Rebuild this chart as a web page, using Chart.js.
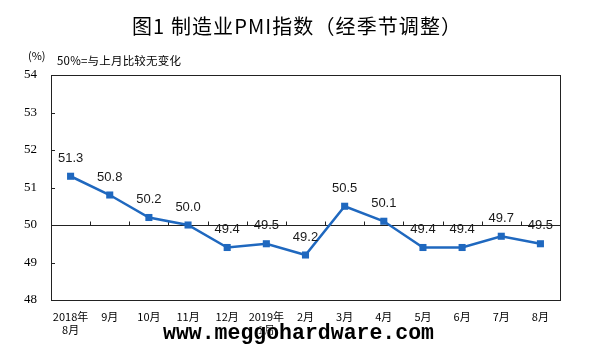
<!DOCTYPE html>
<html>
<head>
<meta charset="utf-8">
<script src="https://cdn.jsdelivr.net/npm/chart.js@4/dist/chart.umd.min.js"></script>
<style>
  html, body { margin: 0; padding: 0; background: #fff; }
  #wrap { position: relative; width: 597px; height: 356px; overflow: hidden; }
  #c { position: absolute; left: 0; top: 0; }
  .t { position: absolute; white-space: nowrap; color: #000; }
  #title { left: 132px; top: 11px; font: 400 20px "Noto Sans CJK SC", sans-serif; letter-spacing: 1.1px; }
  #unit { left: 28px; top: 47px; font: 11px "Noto Sans CJK SC", sans-serif; }
  #note { left: 57px; top: 52px; font: 11.5px "Noto Sans CJK SC", sans-serif; letter-spacing: 0.2px; }
  #wm { left: 163px; top: 321px; font: bold 21.5px "Liberation Mono", monospace; color: #000; text-shadow: 0 0 2px #fff, 0 0 2px #fff; }
</style>
</head>
<body>
<div id="wrap">
  <canvas id="c" width="597" height="356"></canvas>
  <div class="t" id="title">图1 制造业PMI指数（经季节调整）</div>
  <div class="t" id="unit">(%)</div>
  <div class="t" id="note">50%=与上月比较无变化</div>
  <div class="t" id="wm">www.meggohardware.com</div>
</div>
<script>
const categories = [['2018年','8月'],'9月','10月','11月','12月',['2019年','1月'],'2月','3月','4月','5月','6月','7月','8月'];
const pmiValues = [51.3, 50.8, 50.2, 50.0, 49.4, 49.5, 49.2, 50.5, 50.1, 49.4, 49.4, 49.7, 49.5];
const yMin = 48, yMax = 54, yStep = 1;
const baseline = 50;

const framePlugin = {
  id: 'frame',
  beforeDatasetsDraw(chart) {
    const {ctx, chartArea: a, scales: {x, y}} = chart;
    ctx.save();
    ctx.strokeStyle = '#222';
    ctx.lineWidth = 1;
    const yb = Math.round(y.getPixelForValue(baseline)) + 0.5;
    ctx.beginPath();
    ctx.moveTo(a.left, yb); ctx.lineTo(a.right, yb);
    const n = categories.length;
    for (let i = 0; i < n - 1; i++) {
      const px = Math.round((x.getPixelForValue(i) + x.getPixelForValue(i + 1)) / 2) + 0.5;
      ctx.moveTo(px, yb); ctx.lineTo(px, yb - 4);
    }
    for (let v = yMin + yStep; v < yMax; v += yStep) {
      const py = Math.round(y.getPixelForValue(v)) + 0.5;
      ctx.moveTo(a.left, py); ctx.lineTo(a.left + 4, py);
    }
    ctx.stroke();
    ctx.restore();
  },
  afterDraw(chart) {
    const {ctx, chartArea: a} = chart;
    ctx.save();
    ctx.strokeStyle = '#222';
    ctx.lineWidth = 1;
    ctx.strokeRect(Math.round(a.left) + 0.5, Math.round(a.top) + 0.5, Math.round(a.right - a.left), Math.round(a.bottom - a.top));
    const meta = chart.getDatasetMeta(0);
    ctx.fillStyle = '#1a1a1a';
    ctx.font = '13px "Liberation Sans", Arial, sans-serif';
    ctx.textAlign = 'center';
    ctx.textBaseline = 'middle';
    meta.data.forEach((pt, i) => {
      ctx.fillText(pmiValues[i].toFixed(1), pt.x, pt.y - 18);
    });
    ctx.restore();
  }
};

new Chart(document.getElementById('c'), {
  type: 'line',
  data: {
    labels: categories,
    datasets: [{
      data: pmiValues,
      borderColor: '#1f68bf',
      backgroundColor: '#1f68bf',
      borderWidth: 2.5,
      pointStyle: 'rect',
      pointRadius: 5,
      pointBackgroundColor: '#1f68bf',
      pointBorderWidth: 0,
      tension: 0,
      fill: false
    }]
  },
  options: {
    responsive: false,
    animation: false,
    devicePixelRatio: 1,
    layout: { padding: { top: 75, right: 37, left: 0, bottom: 0 } },
    plugins: { legend: { display: false }, tooltip: { enabled: false }, title: { display: false } },
    scales: {
      x: {
        type: 'category',
        offset: true,
        grid: { display: false, drawTicks: false },
        border: { display: false },
        ticks: {
          color: '#000',
          padding: 10,
          maxRotation: 0,
          autoSkip: false,
          font: { family: '"Noto Sans CJK SC", sans-serif', size: 11, lineHeight: 1.2 }
        },
        afterFit(scale) { scale.height = 56; }
      },
      y: {
        min: yMin,
        max: yMax,
        grid: { display: false, drawTicks: false },
        border: { display: false },
        ticks: {
          stepSize: yStep,
          color: '#000',
          padding: 14,
          font: { family: '"Liberation Serif", "Times New Roman", serif', size: 13 }
        },
        afterFit(scale) { scale.width = 51; }
      }
    }
  },
  plugins: [framePlugin]
});
</script>
</body>
</html>
